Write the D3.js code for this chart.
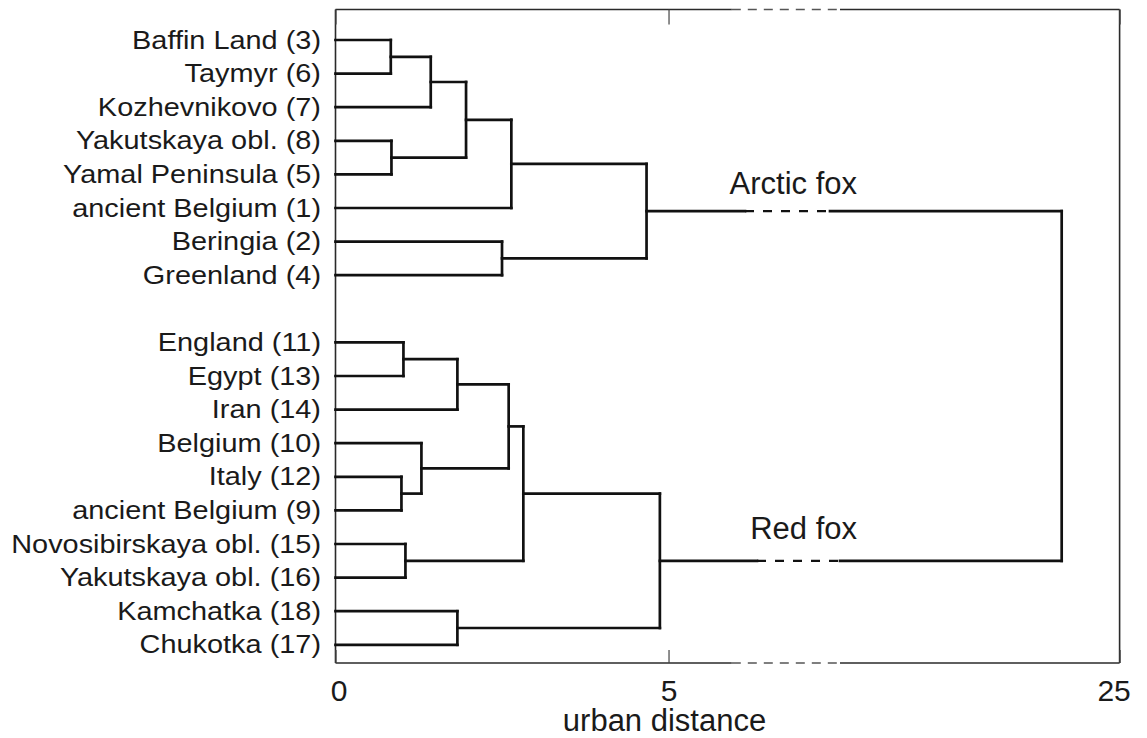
<!DOCTYPE html>
<html>
<head>
<meta charset="utf-8">
<script src="https://cdn.jsdelivr.net/npm/d3@7"></script>
<style>
  html, body { margin: 0; padding: 0; background: #fff; }
  svg { display: block; font-family: "Liberation Sans", Arial, Helvetica, sans-serif; }
</style>
</head>
<body>
<svg id="chart" width="1147" height="738"></svg>
<script>
// Leaf populations, top to bottom, for each species cluster
const arcticLeaves = [
  "Baffin Land (3)", "Taymyr (6)", "Kozhevnikovo (7)", "Yakutskaya obl. (8)",
  "Yamal Peninsula (5)", "ancient Belgium (1)", "Beringia (2)", "Greenland (4)"
];
const redLeaves = [
  "England (11)", "Egypt (13)", "Iran (14)", "Belgium (10)", "Italy (12)",
  "ancient Belgium (9)", "Novosibirskaya obl. (15)", "Yakutskaya obl. (16)",
  "Kamchatka (18)", "Chukotka (17)"
];

// Agglomeration steps: [node id, first child, second child, linkage distance]
const merges = [
  ["a1", "Baffin Land (3)", "Taymyr (6)", 0.83],
  ["a2", "a1", "Kozhevnikovo (7)", 1.43],
  ["a3", "Yakutskaya obl. (8)", "Yamal Peninsula (5)", 0.84],
  ["a4", "a2", "a3", 1.96],
  ["a5", "a4", "ancient Belgium (1)", 2.64],
  ["a6", "Beringia (2)", "Greenland (4)", 2.50],
  ["arctic", "a5", "a6", 4.67],
  ["r1", "England (11)", "Egypt (13)", 1.02],
  ["r2", "r1", "Iran (14)", 1.83],
  ["r3", "Italy (12)", "ancient Belgium (9)", 0.99],
  ["r4", "Belgium (10)", "r3", 1.29],
  ["r5", "r2", "r4", 2.60],
  ["r6", "Novosibirskaya obl. (15)", "Yakutskaya obl. (16)", 1.05],
  ["r7", "r5", "r6", 2.82],
  ["r8", "Kamchatka (18)", "Chukotka (17)", 1.83],
  ["red", "r7", "r8", 4.87],
  ["root", "arctic", "red", 24.13]
];

// Cluster captions
const clusterNames = ["arctic", "red"];
const clusterLabels = ["Arctic fox", "Red fox"];

// Axis: labelled ticks and the collapsed stretch of the distance scale
const tickValues = [0, 5, 25];
const tickLabels = ["0", "5", "25"];
const axisBreak = [5.95, 20.8];
const axisTitle = "urban distance";

const svg = d3.select("#chart");
const plot = { left: 335.5, right: 1119.6, top: 9.5, bottom: 663 };

// Piecewise scale squeezes the break into a short dashed stretch
const x = d3.scaleLinear()
  .domain([0, axisBreak[0], axisBreak[1], 25])
  .range([plot.left, 731.8, 840, plot.right]);

const y = d3.scalePoint()
  .domain([...arcticLeaves, "", ...redLeaves])
  .range([40, 644.8]);

// Node table: leaves at distance 0, merged nodes centred between children
const nodes = new Map();
[...arcticLeaves, ...redLeaves].forEach(n => nodes.set(n, { h: 0, y: y(n) }));
merges.forEach(([id, c1, c2, h]) => {
  nodes.set(id, { h, y: (nodes.get(c1).y + nodes.get(c2).y) / 2, c1, c2 });
});

const ink = "#111";
const lineW = 2.7;

// Frame with the break shown dashed on top and bottom edges
const frame = svg.append("g").attr("stroke", "#2a2a2a").attr("stroke-width", 1.6).attr("fill", "none");
[plot.top, plot.bottom].forEach(yy => {
  frame.append("line").attr("x1", plot.left).attr("x2", x(axisBreak[0])).attr("y1", yy).attr("y2", yy);
  frame.append("line").attr("x1", x(axisBreak[0])).attr("x2", x(axisBreak[1])).attr("y1", yy).attr("y2", yy)
    .attr("stroke-dasharray", "9,7").attr("stroke", "#555");
  frame.append("line").attr("x1", x(axisBreak[1])).attr("x2", plot.right).attr("y1", yy).attr("y2", yy);
});
frame.append("line").attr("x1", plot.left).attr("x2", plot.left).attr("y1", plot.top).attr("y2", plot.bottom);
frame.append("line").attr("x1", plot.right).attr("x2", plot.right).attr("y1", plot.top).attr("y2", plot.bottom);

// Inward ticks on both edges
const topAxis = svg.append("g").attr("transform", `translate(0,${plot.top})`)
  .call(d3.axisTop(x).tickValues(tickValues).tickSize(-15).tickFormat(""));
topAxis.select(".domain").remove();
topAxis.selectAll("line").attr("stroke", "#444").attr("stroke-width", 1.2);

const botAxis = svg.append("g").attr("transform", `translate(0,${plot.bottom})`)
  .call(d3.axisBottom(x).tickValues(tickValues).tickSize(-13).tickPadding(17)
    .tickFormat((d, i) => tickLabels[i]));
botAxis.select(".domain").remove();
botAxis.selectAll("line").attr("stroke", "#444").attr("stroke-width", 1.2);
botAxis.selectAll("text")
  .attr("font-size", 30).attr("fill", "#1a1a1a")
  .attr("font-family", "Liberation Sans, Arial, sans-serif")
  .attr("dx", d => d === 0 ? 3 : d === 25 ? -6 : 0);

svg.append("text")
  .attr("x", x(5) - 4).attr("y", 731)
  .attr("text-anchor", "middle")
  .attr("font-size", 31).attr("fill", "#1a1a1a")
  .text(axisTitle);

// Dendrogram links
const links = svg.append("g").attr("fill", "none").attr("stroke", ink).attr("stroke-width", lineW)
  .attr("stroke-linecap", "square");

// Where a horizontal arm crosses the break, it is drawn dashed
const dashSpan = { arctic: [745, 830], red: [757, 840] };

function arm(child, parentH) {
  const c = nodes.get(child);
  const x0 = x(c.h), x1 = x(parentH);
  if (c.h < axisBreak[0] && parentH > axisBreak[1]) {
    const [d0, d1] = dashSpan[child];
    links.append("path").attr("d", `M${x0},${c.y}H${d0}`);
    links.append("path").attr("d", `M${d0},${c.y}H${d1}`)
      .attr("stroke-dasharray", "9,9").attr("stroke-width", 2.2).attr("stroke-linecap", "butt");
    links.append("path").attr("d", `M${d1},${c.y}H${x1}`);
  } else {
    links.append("path").attr("d", `M${x0},${c.y}H${x1}`);
  }
}

merges.forEach(([id, c1, c2, h]) => {
  arm(c1, h);
  arm(c2, h);
  links.append("path").attr("d", `M${x(h)},${nodes.get(c1).y}V${nodes.get(c2).y}`);
});

// Leaf labels
svg.append("g")
  .selectAll("text")
  .data([...arcticLeaves, ...redLeaves])
  .join("text")
  .attr("transform", d => `translate(321,${y(d)}) scale(1.12,1)`)
  .attr("dy", "0.33em")
  .attr("text-anchor", "end")
  .attr("font-size", 25.8)
  .attr("fill", "#1a1a1a")
  .text(d => d);

// Cluster captions above the arms leading to the root
const captionOffset = [-17, -22];
svg.append("g")
  .selectAll("text")
  .data(clusterNames)
  .join("text")
  .attr("x", 857)
  .attr("y", (d, i) => nodes.get(d).y + captionOffset[i])
  .attr("text-anchor", "end")
  .attr("font-size", 31)
  .attr("fill", "#1a1a1a")
  .text((d, i) => clusterLabels[i]);
</script>
</body>
</html>
